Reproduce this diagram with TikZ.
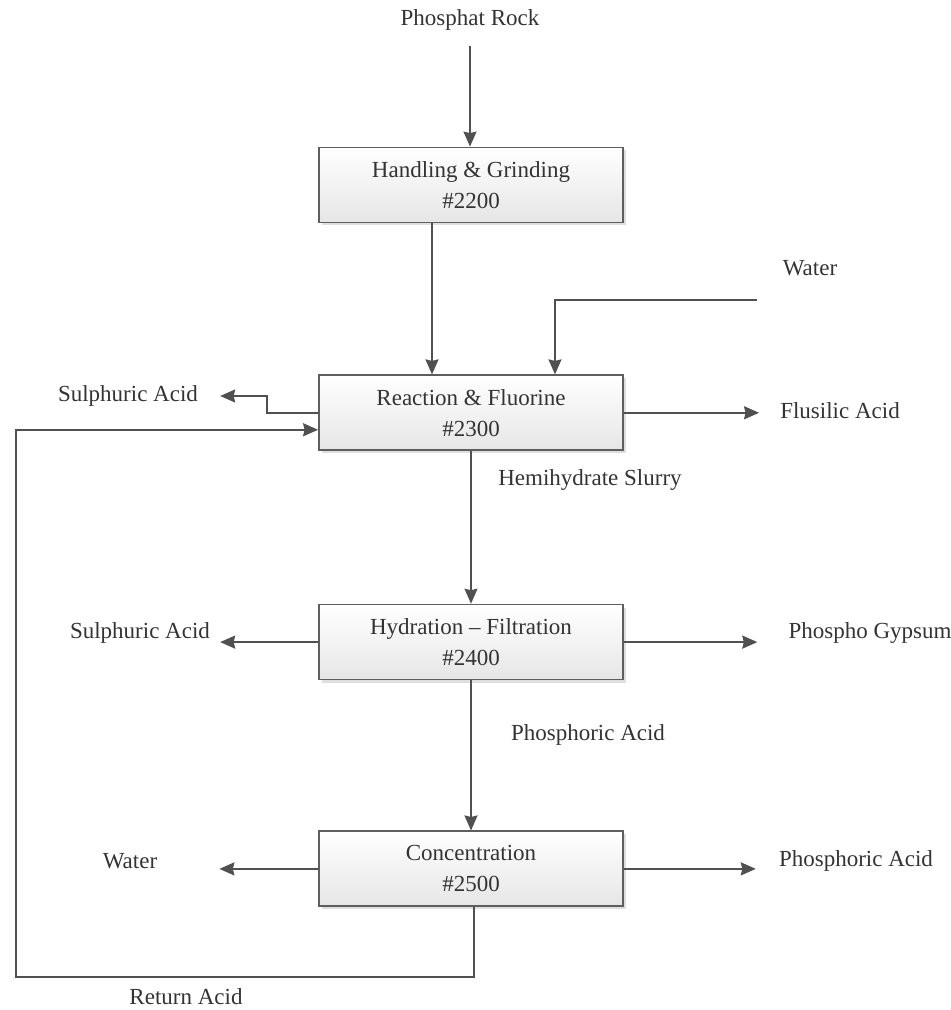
\documentclass[tikz,border=0pt]{standalone}
\usepackage{fontspec}
\setmainfont{Liberation Serif}
\usepackage{tikz}
\usetikzlibrary{positioning, arrows.meta, calc, shadows}
\definecolor{cLine}{HTML}{505050}
\definecolor{cBox}{HTML}{5E5E5E}
\definecolor{cText}{HTML}{333333}
\definecolor{cShade}{HTML}{E6E6E6}
\tikzset{
  procbox/.style={
    draw=cBox, line width=1.8pt, top color=white, bottom color=cShade,
    minimum width=304pt, minimum height=75pt, align=center,
    font=\fontsize{23}{31}\selectfont, text=cText,
    drop shadow={shadow xshift=3pt, shadow yshift=-3pt, opacity=0.25}
  },
  streamlabel/.style={
    inner sep=0pt, font=\fontsize{23}{28}\selectfont, text=cText
  },
  flowarrow/.style={
    -{Stealth[length=15pt, width=13pt, inset=1.5pt]}, line width=1.8pt,
    color=cLine
  },
}
\begin{document}
\begin{tikzpicture}[x=1pt, y=1pt, node distance=150pt]
\useasboundingbox (0,0) rectangle (951,1010);

% ---- Process units ----
\node[procbox] (grind) at (471,825) {Handling \& Grinding\\\#2200};
\node[procbox, below=151pt of grind] (react) {Reaction \& Fluorine\\\#2300};
\node[procbox, below=152.5pt of react] (hydr) {Hydration -- Filtration\\\#2400};
\node[procbox, below=150pt of hydr] (conc) {Concentration\\\#2500};

% ---- Stream labels ----
\node[streamlabel] (rock) at (470,990) {Phosphat Rock};
\node[streamlabel] (water1) at (810,742) {Water};
\node[streamlabel] (sulph1) at (128,614) {Sulphuric Acid};
\node[streamlabel] (flusil) at (840,599) {Flusilic Acid};
\node[streamlabel] (hemi) at (590,530) {Hemihydrate Slurry};
\node[streamlabel] (sulph2) at (140,377) {Sulphuric Acid};
\node[streamlabel] (gypsum) at (870,377) {Phospho Gypsum};
\node[streamlabel] (phos1) at (588,275) {Phosphoric Acid};
\node[streamlabel] (water2) at (130,149) {Water};
\node[streamlabel] (phos2) at (856,149) {Phosphoric Acid};
\node[streamlabel] (retlbl) at (186,13) {Return Acid};

% free ends
\coordinate (wsrc) at (757,710);
\coordinate (ret) at (16,33);

% ---- Arrows ----
% feed
\draw[flowarrow, shorten <=15pt] (rock.south) -- (rock.south |- grind.north);
\draw[flowarrow] ([xshift=-39pt]grind.south) -- ([xshift=-39pt]react.north);
\draw[flowarrow] (wsrc) -| ([xshift=84pt]react.north);

% reaction outlets
\draw[flowarrow] (react.west) -- ++(-51,0) |- ([xshift=22pt]sulph1.east);
\draw[flowarrow, shorten >=21pt] (react.east) -- (react.east -| flusil.west);
\draw[flowarrow] (react.south) -- (hydr.north);

% hydration outlets
\draw[flowarrow, shorten >=10pt] (hydr.west) -- (hydr.west -| sulph2.east);
\draw[flowarrow, shorten >=31pt] (hydr.east) -- (hydr.east -| gypsum.west);
\draw[flowarrow] (hydr.south) -- (conc.north);

% concentration outlets
\draw[flowarrow, shorten >=62pt] (conc.west) -- (conc.west -| water2.east);
\draw[flowarrow, shorten >=23pt] (conc.east) -- (conc.east -| phos2.west);

% return acid loop
\draw[flowarrow] ([xshift=3pt]conc.south) |- (ret) |- ([yshift=-17pt]react.west);

\end{tikzpicture}
\end{document}
